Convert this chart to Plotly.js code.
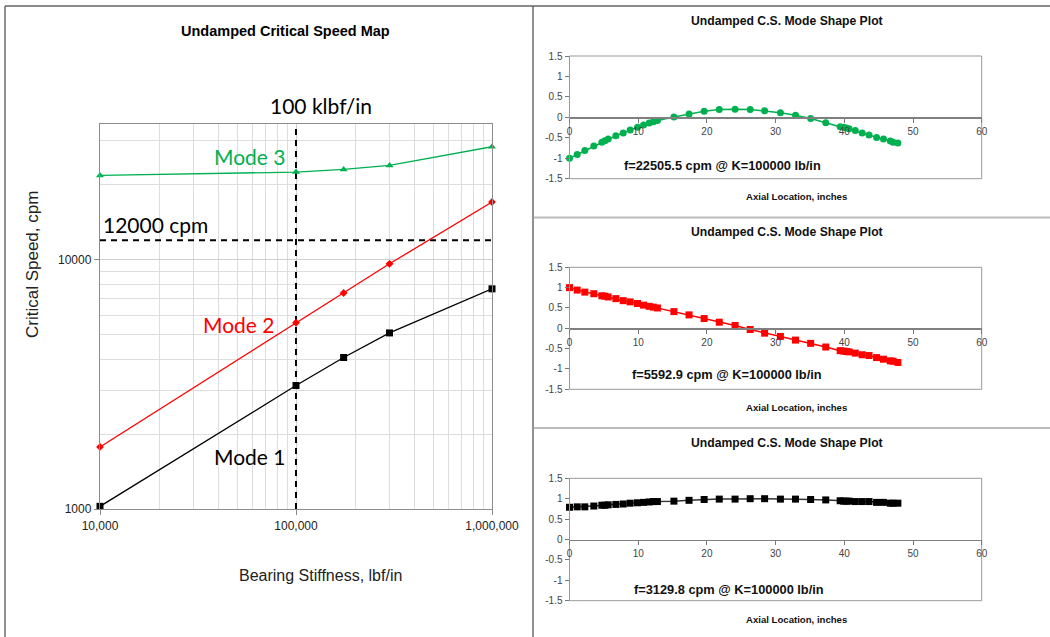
<!DOCTYPE html>
<html>
<head>
<meta charset="utf-8">
<script src="https://cdn.plot.ly/plotly-3.0.1.min.js"></script>
<style>
  html, body { margin: 0; padding: 0; background: #fff; }
  #chart { width: 1050px; height: 637px; }
</style>
</head>
<body>
<div id="chart"></div>
<script>
// ---- Critical speed map data ----
const stiffness = [10000, 100000, 175000, 300000, 1000000];          // lbf/in
const mode1Speed = [1025, 3129.8, 4055, 5090, 7650];                  // cpm
const mode2Speed = [1775, 5592.9, 7360, 9640, 17070];
const mode3Speed = [21830, 22505.5, 23060, 23940, 28440];
const designStiffness = 100000;
const designSpeed = 12000;
const mapXTickVals = [10000, 100000, 1000000];
const mapXTickText = ['10,000', '100,000', '1,000,000'];
const mapYTickVals = [1000, 10000];
const mapYTickText = ['1000', '10000'];

// ---- Mode shapes at K = 100000 lb/in ----
const axialLocation = [0, 1.12, 2.23, 3.54, 4.71, 5.15, 5.63, 6.75, 7.82, 8.83, 9.9, 10.78,
  11.6, 12.2, 12.8, 15.2, 17.4, 19.6, 21.8, 24.1, 26.3, 28.4, 30.7, 32.9, 35.1, 37.3,
  39.4, 39.9, 40.3, 40.7, 41.6, 42.6, 43.6, 44.7, 45.7, 46.7, 47.1, 47.8];
const shapeMode3 = [-1.0, -0.91, -0.81, -0.7, -0.61, -0.57, -0.53, -0.45, -0.38, -0.31, -0.24, -0.19,
  -0.14, -0.11, -0.08, 0.01, 0.08, 0.15, 0.19, 0.2, 0.19, 0.16, 0.11, 0.05, -0.03, -0.13,
  -0.23, -0.24, -0.26, -0.28, -0.32, -0.38, -0.43, -0.49, -0.53, -0.58, -0.61, -0.63];
const shapeMode2 = [1.0, 0.94, 0.89, 0.85, 0.8, 0.79, 0.77, 0.73, 0.68, 0.65, 0.61, 0.57,
  0.54, 0.52, 0.5, 0.41, 0.33, 0.24, 0.15, 0.07, -0.03, -0.12, -0.2, -0.29, -0.37, -0.46,
  -0.55, -0.56, -0.57, -0.58, -0.61, -0.65, -0.67, -0.72, -0.76, -0.8, -0.81, -0.84];
const shapeMode1 = [0.79, 0.8, 0.8, 0.82, 0.84, 0.84, 0.85, 0.86, 0.87, 0.89, 0.9, 0.91,
  0.92, 0.93, 0.93, 0.94, 0.96, 0.98, 0.99, 0.99, 1.0, 1.0, 0.99, 0.99, 0.98, 0.97,
  0.95, 0.94, 0.94, 0.94, 0.93, 0.93, 0.93, 0.91, 0.91, 0.89, 0.89, 0.89];
const shapeXTickVals = [0, 10, 20, 30, 40, 50, 60];
const shapeXTickText = ['0', '10', '20', '30', '40', '50', '60'];
const shapeYTickVals = [1.5, 1, 0.5, 0, -0.5, -1, -1.5];
const shapeYTickText = ['1.5', '1', '0.5', '0', '-0.5', '-1', '-1.5'];

const W = 1050, H = 637;
const px = x => x / W;
const py = y => 1 - y / H;
const FONT = 'Liberation Sans, Arial, sans-serif';
const CAL = 'Lato, Carlito, sans-serif';
const GREEN = '#00B050', RED = '#FF0000', BLACK = '#000000';

// minor grid positions for the log axes
const xMinor = [], yMinor = [];
[10000, 100000].forEach(d => { for (let k = 2; k <= 9; k++) xMinor.push(k * d); });
for (let k = 2; k <= 9; k++) yMinor.push(k * 1000);
yMinor.push(20000, 30000);

const traces = [
  // design reference lines
  { x: [designStiffness, designStiffness], y: [1000, 35000], mode: 'lines', xaxis: 'x', yaxis: 'y',
    line: { color: BLACK, width: 2, dash: '6px,5px' }, hoverinfo: 'skip' },
  { x: [10000, 1000000], y: [designSpeed, designSpeed], mode: 'lines', xaxis: 'x', yaxis: 'y',
    line: { color: BLACK, width: 2, dash: '6px,5px' }, hoverinfo: 'skip' },
  // critical speed curves
  { x: stiffness, y: mode3Speed, mode: 'lines+markers', xaxis: 'x', yaxis: 'y', cliponaxis: false,
    line: { color: GREEN, width: 1.3 }, marker: { symbol: 'triangle-up', size: 7, color: GREEN } },
  { x: stiffness, y: mode2Speed, mode: 'lines+markers', xaxis: 'x', yaxis: 'y', cliponaxis: false,
    line: { color: RED, width: 1.3 }, marker: { symbol: 'diamond', size: 6, color: RED } },
  { x: stiffness, y: mode1Speed, mode: 'lines+markers', xaxis: 'x', yaxis: 'y', cliponaxis: false,
    line: { color: BLACK, width: 1.3 }, marker: { symbol: 'square', size: 7, color: BLACK } },
  // mode shapes
  { x: axialLocation, y: shapeMode3, mode: 'lines+markers', xaxis: 'x2', yaxis: 'y2', cliponaxis: false,
    line: { color: GREEN, width: 1.5 }, marker: { symbol: 'circle', size: 7, color: GREEN } },
  { x: axialLocation, y: shapeMode2, mode: 'lines+markers', xaxis: 'x3', yaxis: 'y3', cliponaxis: false,
    line: { color: RED, width: 1.5 }, marker: { symbol: 'square', size: 7, color: RED } },
  { x: axialLocation, y: shapeMode1, mode: 'lines+markers', xaxis: 'x4', yaxis: 'y4', cliponaxis: false,
    line: { color: '#333', width: 1.5 }, marker: { symbol: 'square', size: 7, color: BLACK } }
];

const mapX = {
  type: 'log', range: [4, 6], domain: [px(100), px(492)], anchor: 'y',
  tickmode: 'array', tickvals: mapXTickVals, ticktext: mapXTickText,
  ticks: 'outside', ticklen: 5, tickcolor: '#888',
  showline: true, mirror: true, linecolor: '#8c8c8c', linewidth: 1.2,
  showgrid: true, gridcolor: '#d0d0d0', zeroline: false,
  minor: { tickmode: 'array', tickvals: xMinor, showgrid: true, gridcolor: '#dedede', ticks: '' },
  tickfont: { family: FONT, size: 12, color: '#222' }
};
const mapY = {
  type: 'log', range: [3, Math.log10(35000)], domain: [py(509), py(124.3)], anchor: 'x',
  tickmode: 'array', tickvals: mapYTickVals, ticktext: mapYTickText,
  ticks: 'outside', ticklen: 5, tickcolor: '#888',
  showline: true, mirror: true, linecolor: '#8c8c8c', linewidth: 1.2,
  showgrid: true, gridcolor: '#d0d0d0', zeroline: false,
  minor: { tickmode: 'array', tickvals: yMinor, showgrid: true, gridcolor: '#dedede', ticks: '' },
  tickfont: { family: FONT, size: 12, color: '#222' }
};

function shapeAxes(n, top, bottom) {
  const yd = [py(bottom), py(top)];
  return {
    ['xaxis' + n]: {
      range: [0, 60], domain: [px(569.5), px(981.7)], anchor: 'free', position: (yd[0] + yd[1]) / 2,
      tickmode: 'array', tickvals: shapeXTickVals, ticktext: shapeXTickText,
      ticks: 'outside', ticklen: 4, tickcolor: '#777',
      showline: true, linecolor: '#808080', linewidth: 1.3, showgrid: false, zeroline: false,
      tickfont: { family: FONT, size: 10, color: '#444' }
    },
    ['yaxis' + n]: {
      range: [-1.5, 1.5], domain: yd, anchor: 'x' + n,
      tickmode: 'array', tickvals: shapeYTickVals, ticktext: shapeYTickText,
      ticks: 'outside', ticklen: 4, tickcolor: '#777',
      showline: true, linecolor: '#999', linewidth: 1, showgrid: false, zeroline: false,
      tickfont: { family: FONT, size: 10, color: '#444' }
    }
  };
}

const panels = [
  { n: 2, top: 56, bottom: 178.7, title: 21, note: 'f=22505.5 cpm @ K=100000 lb/in', noteX: 722, noteY: 166, axis: 196 },
  { n: 3, top: 267.3, bottom: 389.3, title: 232, note: 'f=5592.9 cpm @ K=100000 lb/in', noteX: 727, noteY: 374, axis: 407.5 },
  { n: 4, top: 478.3, bottom: 600.7, title: 443, note: 'f=3129.8 cpm @ K=100000 lb/in', noteX: 729, noteY: 589.5, axis: 619 }
];

const layout = {
  width: W, height: H, margin: { l: 0, r: 0, t: 0, b: 0 },
  paper_bgcolor: '#fff', plot_bgcolor: '#fff', showlegend: false,
  xaxis: mapX, yaxis: mapY,
  annotations: [], shapes: []
};

const ann = (text, x, y, font, extra) => Object.assign({
  text, x: px(x), y: py(y), xref: 'paper', yref: 'paper', showarrow: false,
  xanchor: 'center', yanchor: 'middle', font
}, extra || {});

// critical speed map labels
layout.annotations.push(
  ann('<b>Undamped Critical Speed Map</b>', 285, 31, { family: FONT, size: 14.5, color: '#000' }),
  ann('Critical Speed, cpm', 33, 265, { family: FONT, size: 17, color: '#222' }, { textangle: -90 }),
  ann('Bearing Stiffness, lbf/in', 320, 575, { family: FONT, size: 16, color: '#222' }),
  ann('100 klbf/in', 321, 106, { family: CAL, size: 21, color: '#000' }),
  ann('12000 cpm', 155.5, 224, { family: CAL, size: 21, color: '#000' }),
  ann('Mode 3', 249, 157, { family: CAL, size: 21, color: GREEN }),
  ann('Mode 2', 238, 324, { family: CAL, size: 21, color: RED }),
  ann('Mode 1', 249, 456, { family: CAL, size: 21, color: '#000' })
);

panels.forEach(p => {
  Object.assign(layout, shapeAxes(p.n, p.top, p.bottom));
  layout.annotations.push(
    ann('<b>Undamped C.S. Mode Shape Plot</b>', 787, p.title, { family: FONT, size: 12.2, color: '#111' }),
    ann('<b>' + p.note + '</b>', p.noteX, p.noteY, { family: FONT, size: 12.8, color: '#111' }),
    ann('<b>Axial Location, inches</b>', 796, p.axis, { family: FONT, size: 9.6, color: '#111' })
  );
  layout.shapes.push({
    type: 'rect', xref: 'x' + p.n + ' domain', yref: 'y' + p.n + ' domain',
    x0: 0, x1: 1, y0: 0, y1: 1, line: { color: '#999', width: 1 }, layer: 'below'
  });
});

// panel frames
layout.shapes.push(
  { type: 'line', xref: 'paper', yref: 'paper', x0: px(5), x1: px(5), y0: py(6), y1: py(640), line: { color: '#555', width: 1.3 } },
  { type: 'line', xref: 'paper', yref: 'paper', x0: px(5), x1: px(1050), y0: py(6), y1: py(6), line: { color: '#666', width: 1.3 } },
  { type: 'line', xref: 'paper', yref: 'paper', x0: px(533), x1: px(533), y0: py(6), y1: py(640), line: { color: '#555', width: 1.3 } },
  { type: 'line', xref: 'paper', yref: 'paper', x0: px(534), x1: px(1050), y0: py(217.5), y1: py(217.5), line: { color: '#bbb', width: 2 } },
  { type: 'line', xref: 'paper', yref: 'paper', x0: px(534), x1: px(1050), y0: py(428), y1: py(428), line: { color: '#bbb', width: 2 } }
);

Plotly.newPlot('chart', traces, layout, { staticPlot: true, displayModeBar: false });
</script>
</body>
</html>
